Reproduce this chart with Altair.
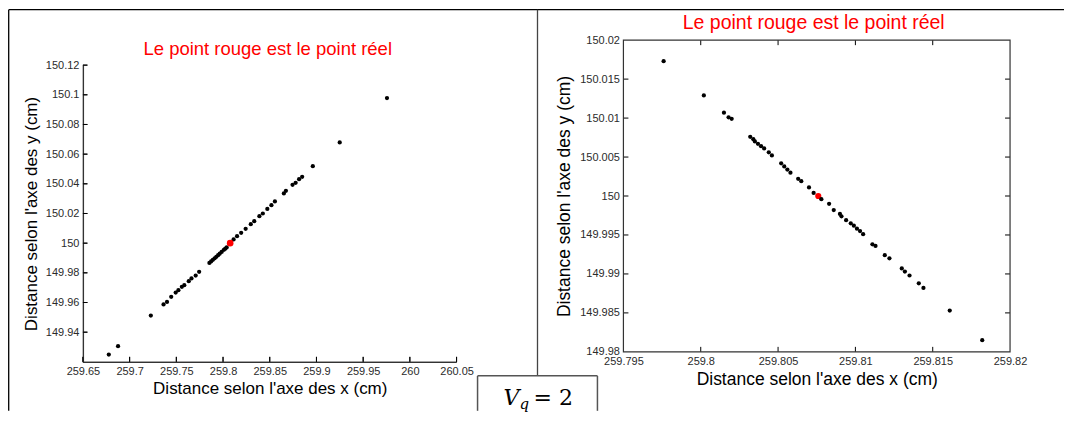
import altair as alt
import pandas as pd

# ---------------- data ----------------
left_x = [259.6777, 259.6876, 259.7227, 259.7363, 259.7400, 259.7445, 259.7493, 259.7522, 259.7559, 259.7585,
          259.7633, 259.7662, 259.7707, 259.7744, 259.7854, 259.7872, 259.7891, 259.7910, 259.7928, 259.7947,
          259.7965, 259.7985, 259.8009, 259.8024, 259.8039, 259.8113, 259.8150, 259.8194, 259.8242, 259.8297,
          259.8334, 259.8389, 259.8426, 259.8474, 259.8518, 259.8555, 259.8651, 259.8673, 259.8744, 259.8777,
          259.8814, 259.8847, 259.8961, 259.9249, 259.9755]
left_y = [149.9249, 149.9306, 149.9512, 149.9587, 149.9604, 149.9638, 149.9667, 149.9683, 149.9706, 149.9717,
          149.9744, 149.9762, 149.9782, 149.9807, 149.9867, 149.9877, 149.9888, 149.9898, 149.9908, 149.9919,
          149.9930, 149.9941, 149.9955, 149.9963, 149.9971, 150.0025, 150.0047, 150.0070, 150.0097, 150.0128,
          150.0148, 150.0182, 150.0200, 150.0231, 150.0256, 150.0281, 150.0335, 150.0353, 150.0393, 150.0407,
          150.0431, 150.0447, 150.0519, 150.0679, 150.0978]

right_x = [259.7976, 259.8002, 259.8015, 259.8018, 259.8020, 259.8032, 259.8034, 259.8035, 259.8037, 259.8039,
           259.8041, 259.8044, 259.8046, 259.8052, 259.8054, 259.8056, 259.8058, 259.8063, 259.8065, 259.8070,
           259.8073, 259.8078, 259.8083, 259.8086, 259.8090, 259.8091, 259.8094, 259.8097, 259.8099, 259.8101,
           259.8103, 259.8105, 259.8111, 259.8113, 259.8119, 259.8122, 259.8130, 259.8132, 259.8135, 259.8141,
           259.8144, 259.8161, 259.8182]
right_y = [150.0173, 150.0129, 150.0107, 150.0101, 150.0099, 150.0076, 150.0073, 150.0070, 150.0067, 150.0064,
           150.0061, 150.0056, 150.0052, 150.0042, 150.0038, 150.0034, 150.0030, 150.0022, 150.0019, 150.0011,
           150.0004, 149.9996, 149.9990, 149.9982, 149.9977, 149.9974, 149.9969, 149.9965, 149.9962, 149.9958,
           149.9955, 149.9951, 149.9938, 149.9936, 149.9924, 149.9920, 149.9907, 149.9903, 149.9898, 149.9888,
           149.9882, 149.9853, 149.9815]

real_x = [259.8076]
real_y = [150.0]

left_xticks = [259.65, 259.7, 259.75, 259.8, 259.85, 259.9, 259.95, 260.0, 260.05]
left_yticks = [149.94, 149.96, 149.98, 150.0, 150.02, 150.04, 150.06, 150.08, 150.1, 150.12]
right_xticks = [259.795, 259.8, 259.805, 259.81, 259.815, 259.82]
right_yticks = [149.98, 149.985, 149.99, 149.995, 150.0, 150.005, 150.01, 150.015, 150.02]

title_text = "Le point rouge est le point réel"
xlabel = "Distance selon l'axe des x (cm)"
ylabel = "Distance selon l'axe des y (cm)"
vq_v, vq_q, vq_eq = "V", "q", "= 2"

# ---------------- styling ----------------
FONT = "Liberation Sans"
LABEL_COLOR = "#2b2b2b"
AXIS_COLOR = "black"

W1, H1, TOP1 = 374, 322, 25      # left view (axis drawn from TOP1 to H1)
W2, H2 = 387, 312                # right view
GAP = 167                        # space between the two plot areas
LX0, LX1, LY0, LY1 = 259.65, 260.05, 149.92, 150.12

one = pd.DataFrame({"d": [0]})


def axis(values, fmt, title, tsize, tpad):
    return alt.Axis(values=values, tickCount=30, labelExpr=f"format(datum.value, '{fmt}')", tickSize=0,
                    grid=False, domain=False,
                    labelFont=FONT, labelFontSize=11, labelColor=LABEL_COLOR, labelPadding=4,
                    labelFlush=False, labelOverlap=False,
                    title=title, titleFont=FONT, titleFontSize=tsize, titleFontWeight="normal",
                    titleColor="black", titlePadding=tpad)


def rule(x, x2, y, y2, color="black", width=1.3):
    return alt.Chart(one).mark_rule(color=color, strokeWidth=width).encode(
        x=alt.value(x), x2=alt.value(x2), y=alt.value(y), y2=alt.value(y2))


def text(t, x, y, size, color="black", font=FONT, style="normal", align="center"):
    return alt.Chart(one).mark_text(text=t, font=font, fontSize=size, color=color, fontStyle=style,
                                    align=align, baseline="alphabetic").encode(x=alt.value(x), y=alt.value(y))


# ---------------- left panel ----------------
xs1 = alt.Scale(domain=[LX0, LX1], nice=False, zero=False)
ys1 = alt.Scale(domain=[LY0, LY1], nice=False, zero=False, range=[H1, TOP1])

ldf = pd.DataFrame({"x": left_x, "y": left_y})
rdf = pd.DataFrame({"x": real_x, "y": real_y})

# page frame (coordinates relative to the left plot origin)
frame = [
    rule(-74.3, 982, -30.5, -30.5),
    rule(-74.3, -74.3, -30.5, 371),
    rule(455, 455, -30.5, 336, color="#444", width=1.3),
    rule(395, 515, 336, 336, color="#555", width=1.5),
    rule(395, 395, 336, 371, color="#555", width=1.5),
    rule(515, 515, 336, 371, color="#555", width=1.5),
]
left_axes_lines = [
    rule(0.5, 0.5, TOP1, H1 + 0.5, color="#333", width=1.2),
    rule(0, W1, H1 + 0.5, H1 + 0.5, color="#333", width=1.2),
]

left_points = alt.Chart(ldf).mark_circle(color="black", size=18, opacity=1).encode(
    x=alt.X("x:Q", scale=xs1, axis=axis(left_xticks, ".2~f", xlabel, 17, 4)),
    y=alt.Y("y:Q", scale=ys1, axis=axis(left_yticks, ".2~f", ylabel, 17, 5)),
)
left_real = alt.Chart(rdf).mark_circle(color="#ff0000", size=44, opacity=1).encode(
    x=alt.X("x:Q", scale=xs1), y=alt.Y("y:Q", scale=ys1))

lxt = alt.Chart(pd.DataFrame({"x": left_xticks})).mark_rule(color=AXIS_COLOR).encode(
    x=alt.X("x:Q", scale=xs1), y=alt.value(H1), y2=alt.value(H1 - 5))
lyt = alt.Chart(pd.DataFrame({"y": left_yticks})).mark_rule(color=AXIS_COLOR).encode(
    y=alt.Y("y:Q", scale=ys1), x=alt.value(0), x2=alt.value(4.5))

left_title = text(title_text, W1 / 2 - 2, 15, 18.5, color="#ff0000")
vq = [
    text(vq_v, 421, 365, 22, font="DejaVu Serif", style="italic", align="left"),
    text(vq_q, 437, 369, 15, font="DejaVu Serif", style="italic", align="left"),
    text(vq_eq, 451, 365, 22, font="DejaVu Serif", align="left"),
]

left = alt.layer(left_points, *frame, left_real, left_title, *vq, lxt, lyt, *left_axes_lines).properties(
    width=W1, height=H1)

# ---------------- right panel ----------------
xs2 = alt.Scale(domain=[259.795, 259.82], nice=False, zero=False)
ys2 = alt.Scale(domain=[149.98, 150.02], nice=False, zero=False)

r_real = alt.Chart(rdf).mark_circle(color="#ff0000", size=38, opacity=1).encode(
    x=alt.X("x:Q", scale=xs2, axis=axis(right_xticks, ".3~f", xlabel, 17.5, 4)),
    y=alt.Y("y:Q", scale=ys2, axis=axis(right_yticks, ".3~f", ylabel, 17.5, 6)),
)
r_points = alt.Chart(pd.DataFrame({"x": right_x, "y": right_y})).mark_circle(
    color="black", size=18, opacity=1).encode(
    x=alt.X("x:Q", scale=xs2), y=alt.Y("y:Q", scale=ys2))

box = alt.Chart(one).mark_rect(fill="transparent", stroke="#333333", strokeWidth=1.2).encode(
    x=alt.value(0), x2=alt.value(W2), y=alt.value(0), y2=alt.value(H2))

rx = pd.DataFrame({"x": right_xticks[1:-1]})
ry = pd.DataFrame({"y": right_yticks[1:-1]})
rxb = alt.Chart(rx).mark_rule(color=AXIS_COLOR).encode(
    x=alt.X("x:Q", scale=xs2), y=alt.value(H2), y2=alt.value(H2 - 5))
rxt = alt.Chart(rx).mark_rule(color=AXIS_COLOR).encode(
    x=alt.X("x:Q", scale=xs2), y=alt.value(0), y2=alt.value(5))
ryl = alt.Chart(ry).mark_rule(color=AXIS_COLOR).encode(
    y=alt.Y("y:Q", scale=ys2), x=alt.value(0), x2=alt.value(5))
ryr = alt.Chart(ry).mark_rule(color=AXIS_COLOR).encode(
    y=alt.Y("y:Q", scale=ys2), x=alt.value(W2 - 5), x2=alt.value(W2))

right_title = text(title_text, W2 / 2 - 3, -11.5, 19.5, color="#ff0000")

# left panel's axis lines and inward ticks, re-drawn from the right panel's group
# (offset of the left plot origin relative to the right one is -(W1 + GAP))
OFF = -(W1 + GAP)
left_frame_again = [
    rule(OFF + 0.5, OFF + 0.5, TOP1, H1 + 0.5, color="#333", width=1.2),
    rule(OFF, OFF + W1, H1 + 0.5, H1 + 0.5, color="#333", width=1.2),
]
for v in left_xticks:
    px = OFF + (v - LX0) / (LX1 - LX0) * W1
    left_frame_again.append(rule(px, px, H1, H1 - 5, color=AXIS_COLOR, width=1))
for v in left_yticks:
    py = TOP1 + (LY1 - v) / (LY1 - LY0) * (H1 - TOP1)
    left_frame_again.append(rule(OFF, OFF + 4.5, py, py, color=AXIS_COLOR, width=1))

right = alt.layer(r_real, r_points, right_title, rxb, rxt, ryl, ryr, box, *left_frame_again).properties(
    width=W2, height=H2)

chart = (
    alt.hconcat(left, right, spacing=GAP, bounds="flush", padding=0)
    .configure_view(strokeWidth=0)
    .configure_axis(labelOverlap=False, labelBound=False, labelFlush=False)
)

chart.save("out.html", embed_options={"renderer": "svg", "actions": False})
